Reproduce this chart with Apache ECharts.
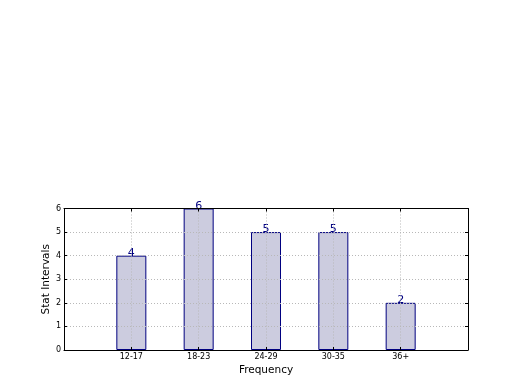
<!DOCTYPE html>
<html>
<head>
<meta charset="utf-8">
<script src="https://cdn.jsdelivr.net/npm/echarts@6/dist/echarts.min.js"></script>
<style>html,body{margin:0;padding:0;background:#fff;}#c{width:520px;height:390px;}</style>
</head>
<body>
<div id="c"></div>
<script>
const categories = ['12-17', '18-23', '24-29', '30-35', '36+'];
const values = [4, 6, 5, 5, 2];
const yTicks = [0, 1, 2, 3, 4, 5, 6];

const font = 'DejaVu Sans';
const data = values.map((v, i) => [i + 1, v]);
const chart = echarts.init(document.getElementById('c'), null, {renderer: 'canvas'});
const grid = {left: 64, right: 52, top: 208.5, bottom: 40};
const gridLine = {show: true, lineStyle: {color: '#b8b8b8', type: [1, 2], width: 1}};
const tick = {show: true, inside: true, length: 3, lineStyle: {color: '#000'}};
const line = {show: true, onZero: false, lineStyle: {color: '#000', width: 1}};
chart.setOption({
  animation: false,
  grid: grid,
  xAxis: [{
    type: 'value', min: 0, max: 6, interval: 1, z: 3,
    name: 'Frequency', nameLocation: 'middle', nameGap: 15, nameMoveOverlap: false,
    nameTextStyle: {fontFamily: font, fontSize: 10.5, color: '#000'},
    axisLine: line, axisTick: tick,
    axisLabel: {fontFamily: font, fontSize: 8, color: '#000', margin: 3,
      formatter: v => (v >= 1 && v <= categories.length) ? categories[v - 1] : ''},
    splitLine: gridLine
  }, {
    type: 'value', min: 0, max: 6, interval: 1, position: 'top', z: 3,
    axisLine: line, axisTick: tick,
    axisLabel: {show: false}, splitLine: {show: false}
  }],
  yAxis: [{
    type: 'value', min: 0, max: 6, interval: 1, z: 3,
    name: 'Stat Intervals', nameLocation: 'middle', nameGap: 12, nameMoveOverlap: false,
    nameTextStyle: {fontFamily: font, fontSize: 10.5, color: '#000'},
    axisLine: line, axisTick: tick,
    axisLabel: {fontFamily: font, fontSize: 8, color: '#000', margin: 3,
      formatter: v => yTicks.includes(v) ? String(v) : ''},
    splitLine: gridLine
  }, {
    type: 'value', min: 0, max: 6, interval: 1, position: 'right', z: 3,
    axisLine: line, axisTick: tick,
    axisLabel: {show: false}, splitLine: {show: false}
  }],
  series: [{
    type: 'bar',
    data: data,
    barWidth: 30,
    z: 1,
    itemStyle: {color: '#ccccdf', borderColor: '#000080', borderWidth: 1},
    label: {show: true, position: 'top', distance: -3, fontFamily: font, fontSize: 11, color: '#000080'}
  }]
});
</script>
</body>
</html>
